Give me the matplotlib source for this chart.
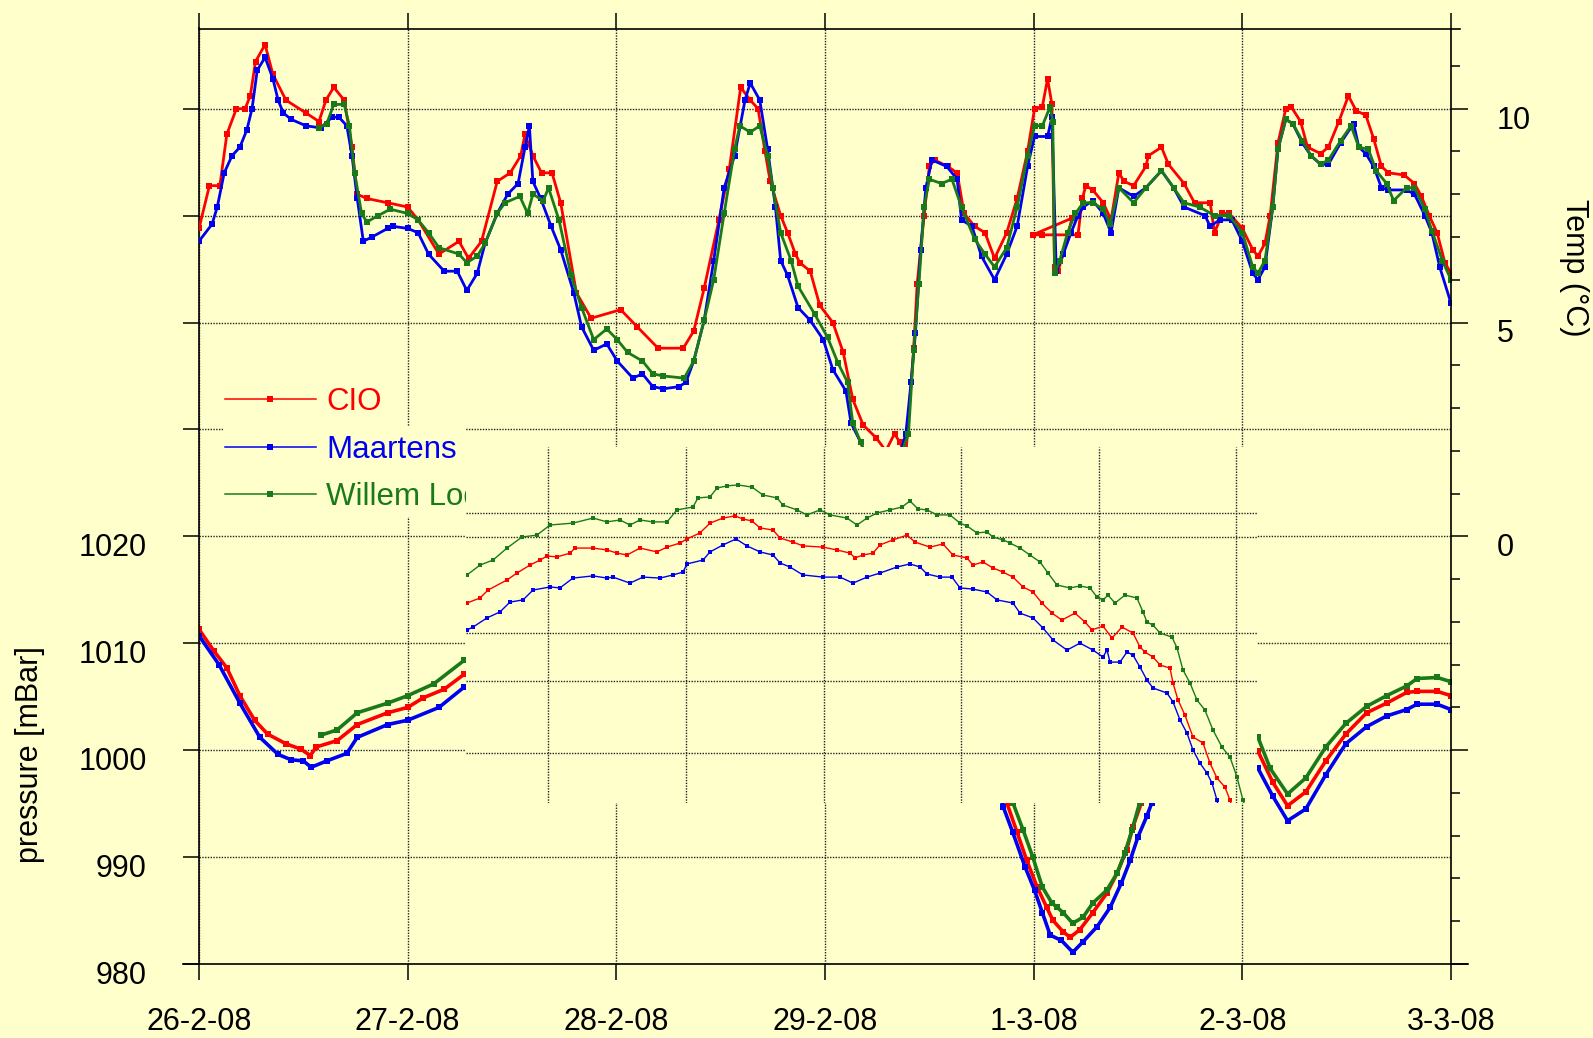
import numpy as np
import matplotlib
matplotlib.use("Agg")
import matplotlib.pyplot as plt
import matplotlib.transforms as mtransforms
from matplotlib.lines import Line2D
from matplotlib.patches import Rectangle
from matplotlib.ticker import MultipleLocator

plt.rcParams['font.family'] = ['Liberation Sans', 'DejaVu Sans']

BG = '#FFFFCC'
COLORS = ['#FF0000', '#0000F0', '#1A7A1A']
stations = ['CIO', 'Maartens', 'Willem Lodewijk']
day_labels = ['26-2-08', '27-2-08', '28-2-08', '29-2-08', '1-3-08', '2-3-08', '3-3-08']

# temperature (deg C), (hours since 26-2-08 00:00, value)
cio_temp = [
    (0, 7.2), (1.2, 8.2), (2.4, 8.2), (3.2, 9.4), (4.3, 10.0), (5.3, 10.0), (5.9, 10.3), (6.5, 11.1),
    (7.6, 11.5), (8.5, 10.8), (10.0, 10.2), (12.3, 9.9), (13.8, 9.7), (14.6, 10.2), (15.5, 10.5),
    (16.7, 10.2), (17.6, 9.1), (18.2, 8.0), (19.3, 7.9), (21.7, 7.8), (24.0, 7.7), (25.2, 7.4),
    (27.6, 6.6), (29.9, 6.9), (31.0, 6.5), (32.5, 6.9), (34.3, 8.3), (35.8, 8.5), (37.0, 8.9),
    (37.5, 9.4), (38.4, 8.9), (39.4, 8.5), (40.6, 8.5), (41.6, 7.8), (43.4, 5.7), (45.1, 5.1),
    (48.5, 5.3), (50.4, 4.9), (52.8, 4.4), (55.7, 4.4), (56.9, 4.8), (58.1, 5.8), (59.8, 7.4),
    (61.0, 8.6), (62.3, 10.5), (63.4, 10.2), (64.3, 10.0), (65.1, 9.0), (65.7, 8.3), (66.9, 7.5),
    (67.7, 7.1), (68.6, 6.6), (69.1, 6.4), (70.3, 6.2), (71.4, 5.4), (72.9, 5.0), (74.1, 4.3),
    (75.2, 3.2), (76.4, 2.6), (77.9, 2.3), (79.0, 2.0), (80.0, 2.4), (80.6, 2.2), (81.3, 1.9),
    (82.2, 4.4), (82.6, 5.9), (83.4, 7.5), (84.0, 8.65), (84.6, 8.8), (86.1, 8.65), (87.2, 8.5),
    (88.0, 7.55), (89.2, 7.25), (90.4, 7.1), (91.5, 6.5), (92.9, 7.1), (94.1, 7.9), (95.3, 9.0),
    (96.1, 10.0), (97.0, 10.05), (97.6, 10.7), (98.1, 10.1), (98.4, 6.3), (98.8, 6.2), (99.4, 6.6),
    (100.4, 7.44), (95.9, 7.05), (97.0, 7.05), (101.1, 7.05), (101.6, 7.9), (102.0, 8.2),
    (102.8, 8.1), (104.0, 7.8), (104.9, 7.4), (105.8, 8.5), (106.4, 8.3), (107.5, 8.2), (108.9, 8.65),
    (109.2, 8.9), (110.7, 9.1), (111.5, 8.7), (113.3, 8.25), (114.5, 7.8), (116.3, 7.8), (116.8, 7.1),
    (117.7, 7.55), (118.5, 7.55), (120.0, 7.2), (121.2, 6.7), (121.8, 6.55), (122.6, 6.85),
    (123.2, 7.5), (124.1, 9.2), (125.0, 10.0), (125.6, 10.05), (126.7, 9.7), (127.5, 9.1),
    (129.0, 8.95), (129.9, 9.1), (131.1, 9.7), (132.2, 10.3), (133.1, 9.95), (134.2, 9.85),
    (135.1, 9.3), (136.0, 8.65), (136.8, 8.5), (138.6, 8.45), (139.8, 8.25), (140.6, 7.95),
    (141.5, 7.5), (142.4, 7.1), (143.3, 6.4), (144.0, 6.15),
]
maartens_temp = [
    (0, 6.9), (1.5, 7.3), (2.1, 7.7), (2.9, 8.5), (3.8, 8.9), (4.7, 9.1), (5.5, 9.5), (6.1, 10.0),
    (6.7, 10.9), (7.6, 11.2), (8.5, 10.7), (9.1, 10.2), (9.7, 9.9), (10.6, 9.75), (12.3, 9.6),
    (14.0, 9.55), (15.3, 9.8), (16.1, 9.8), (17.0, 9.6), (17.6, 8.9), (18.2, 7.9), (18.9, 6.9),
    (19.9, 7.0), (21.7, 7.2), (22.3, 7.25), (24.0, 7.2), (25.2, 7.1), (26.4, 6.6), (28.2, 6.2),
    (29.7, 6.2), (30.8, 5.75), (32.0, 6.15), (32.9, 6.85), (34.3, 7.55), (35.5, 8.0), (36.7, 8.25),
    (37.5, 9.1), (38.0, 9.6), (38.4, 8.3), (39.3, 7.9), (40.5, 7.25), (41.6, 6.7), (43.1, 5.7),
    (44.0, 4.9), (45.4, 4.35), (46.9, 4.5), (48.1, 4.1), (49.9, 3.7), (51.0, 3.8), (52.2, 3.5),
    (53.4, 3.45), (55.2, 3.5), (56.0, 3.6), (56.9, 4.1), (58.1, 5.05), (59.2, 6.45), (60.4, 8.15),
    (61.6, 8.9), (62.8, 10.2), (63.4, 10.6), (64.5, 10.2), (65.4, 9.05), (66.3, 7.7), (66.9, 6.45),
    (67.7, 6.1), (68.9, 5.35), (70.3, 5.05), (71.8, 4.6), (72.9, 3.9), (74.4, 3.4), (75.0, 2.65),
    (76.1, 2.2), (77.5, 1.5), (80.0, 1.5), (81.3, 2.4), (81.9, 3.6), (82.4, 4.75), (83.0, 6.7),
    (83.6, 8.15), (84.3, 8.8), (86.0, 8.65), (87.2, 8.35), (87.7, 7.4), (88.9, 7.25), (90.0, 6.55),
    (91.5, 6.0), (92.9, 6.6), (94.1, 7.25), (95.3, 8.65), (96.1, 9.35), (97.6, 9.35), (98.1, 9.8),
    (98.6, 6.2), (99.4, 6.6), (100.3, 7.1), (101.1, 7.5), (101.7, 7.7), (102.8, 7.85), (104.0, 7.55),
    (104.9, 7.1), (105.8, 8.15), (107.5, 7.95), (108.9, 8.15), (110.7, 8.55), (112.1, 8.15),
    (113.3, 7.7), (115.7, 7.5), (116.3, 7.25), (117.4, 7.4), (118.8, 7.4), (120.0, 6.9), (121.2, 6.15),
    (121.8, 6.0), (122.6, 6.3), (123.5, 7.7), (124.1, 9.05), (125.0, 9.75), (125.8, 9.65),
    (126.9, 9.2), (127.9, 8.9), (129.0, 8.7), (129.9, 8.7), (131.3, 9.2), (132.8, 9.65), (133.4, 9.1),
    (134.2, 8.95), (135.1, 8.65), (136.0, 8.15), (136.8, 8.1), (138.9, 8.1), (139.8, 8.0),
    (141.0, 7.5), (141.8, 7.1), (142.7, 6.3), (144.0, 5.45),
]
willem_temp = [
    (13.8, 9.55), (14.7, 9.65), (15.5, 10.1), (16.7, 10.1), (17.3, 9.6), (17.9, 8.5), (18.7, 7.55),
    (19.3, 7.35), (20.6, 7.5), (22.0, 7.65), (24.0, 7.55), (25.2, 7.4), (26.4, 7.1), (27.6, 6.75),
    (29.9, 6.6), (30.8, 6.4), (32.0, 6.55), (32.9, 6.85), (34.3, 7.55), (35.2, 7.8), (36.9, 7.95),
    (37.8, 7.55), (38.4, 8.0), (39.6, 7.85), (40.2, 8.15), (41.4, 7.4), (42.8, 6.1), (44.0, 5.35),
    (45.4, 4.6), (46.9, 4.85), (48.1, 4.6), (49.3, 4.3), (51.0, 4.1), (52.2, 3.8), (53.4, 3.75),
    (55.8, 3.7), (56.9, 4.1), (58.1, 5.05), (59.2, 6.0), (60.4, 7.55), (61.6, 9.05), (62.2, 9.6),
    (63.4, 9.45), (64.5, 9.6), (65.4, 8.9), (66.0, 8.15), (66.9, 7.1), (68.1, 6.45), (68.9, 5.85),
    (70.8, 5.2), (72.3, 4.65), (73.5, 4.05), (74.6, 3.6), (75.2, 2.65), (76.1, 2.2), (77.5, 1.5),
    (80.0, 1.5), (81.6, 2.4), (82.2, 4.35), (82.8, 5.9), (83.4, 7.7), (84.0, 8.35), (85.4, 8.25),
    (86.6, 8.35), (87.7, 7.7), (89.2, 6.95), (90.4, 6.6), (91.5, 6.3), (92.9, 6.75), (94.1, 7.7),
    (95.3, 8.9), (96.1, 9.6), (97.0, 9.6), (97.9, 10.05), (98.2, 9.7), (98.4, 6.15), (99.0, 6.45),
    (99.9, 7.1), (100.8, 7.55), (101.7, 7.8), (102.8, 7.8), (104.0, 7.65), (104.8, 7.3), (105.8, 8.15),
    (107.5, 7.8), (108.9, 8.15), (110.7, 8.55), (112.1, 8.15), (113.3, 7.8), (115.1, 7.7),
    (116.8, 7.5), (118.5, 7.5), (120.0, 7.1), (121.2, 6.3), (121.8, 6.15), (122.6, 6.45), (123.5, 7.7),
    (124.1, 9.05), (125.0, 9.75), (125.8, 9.65), (126.9, 9.25), (127.9, 8.9), (129.0, 8.7),
    (129.9, 8.8), (131.3, 9.25), (132.5, 9.6), (133.4, 9.1), (134.5, 9.05), (135.4, 8.55),
    (136.6, 8.25), (137.4, 7.85), (138.9, 8.15), (139.8, 8.15), (141.0, 7.65), (141.8, 7.15),
    (143.0, 6.45), (144.0, 6.0),
]

# pressure (mBar), visible stretches of the main chart
cio_pres = [
    [(0, 1011.3), (1.7, 1009.3), (3.2, 1007.7), (4.7, 1005.1), (6.4, 1002.8), (7.9, 1001.5),
     (10.0, 1000.6), (11.7, 1000.1), (12.8, 999.5), (13.5, 1000.3), (15.9, 1000.9), (18.2, 1002.4),
     (21.7, 1003.5), (24.0, 1004.0), (25.8, 1004.9), (28.2, 1005.7), (30.5, 1007.1), (31.5, 1007.6)],
    [(92.2, 996.6), (92.9, 995.1), (94.1, 992.3), (95.2, 989.7), (96.4, 987.2), (97.5, 985.3),
     (98.2, 984.1), (99.4, 983.0), (100.2, 982.5), (101.3, 983.2), (102.8, 984.8), (104.4, 986.6),
     (105.6, 988.5), (106.7, 990.7), (107.4, 992.8), (108.4, 995.1), (109.0, 996.5)],
    [(121.8, 999.9), (123.5, 997.0), (125.2, 994.8), (127.3, 996.1), (129.6, 999.0), (131.9, 1001.5),
     (134.3, 1003.5), (136.6, 1004.4), (138.9, 1005.4), (140.1, 1005.5), (142.4, 1005.5), (144.0, 1005.1)],
]
maartens_pres = [
    [(0, 1010.7), (2.3, 1008.0), (4.7, 1004.4), (7.0, 1001.2), (9.1, 999.6), (10.6, 999.1),
     (12.0, 999.0), (12.9, 998.4), (14.7, 999.0), (17.0, 999.7), (18.2, 1001.2), (21.7, 1002.4),
     (24.0, 1002.8), (27.6, 1004.0), (30.5, 1005.9), (31.5, 1006.4)],
    [(91.8, 996.5), (92.5, 994.7), (93.6, 992.3), (95.0, 989.1), (96.1, 986.9), (97.0, 984.8),
     (97.9, 982.7), (99.2, 982.2), (100.5, 981.1), (101.7, 982.1), (103.3, 983.5), (104.8, 985.3),
     (106.1, 987.6), (107.1, 989.7), (108.0, 991.9), (109.0, 993.8), (109.6, 995.1), (110.2, 996.3)],
    [(121.8, 998.3), (123.5, 995.7), (125.2, 993.4), (127.3, 994.5), (129.6, 997.7), (131.9, 1000.6),
     (134.3, 1002.2), (136.6, 1003.2), (138.9, 1003.8), (140.1, 1004.3), (142.4, 1004.3), (144.0, 1003.8)],
]
willem_pres = [
    [(14.0, 1001.4), (15.9, 1001.9), (18.2, 1003.5), (21.7, 1004.4), (24.0, 1005.1), (27.0, 1006.2),
     (30.5, 1008.4), (31.5, 1008.9)],
    [(92.9, 996.7), (93.6, 995.1), (94.8, 992.5), (95.9, 990.0), (97.0, 987.2), (98.1, 985.7),
     (98.7, 985.3), (99.4, 984.8), (100.5, 983.8), (101.7, 984.4), (102.8, 985.7), (104.4, 986.9),
     (105.6, 988.5), (106.5, 990.4), (107.3, 992.5), (108.2, 995.1), (108.8, 996.6)],
    [(121.8, 1001.2), (123.2, 998.3), (125.2, 995.9), (127.3, 997.4), (129.6, 1000.3), (131.9, 1002.5),
     (134.3, 1004.1), (136.6, 1005.1), (138.9, 1006.0), (140.1, 1006.7), (142.4, 1006.8), (144.0, 1006.4)],
]

# the pasted-in panel: pressure on its own stretched scale
inset_cio = [
    (9.78, 1008.25), (12.05, 1008.46), (13.45, 1008.79), (16.76, 1009.21), (18.5, 1009.5),
    (20.77, 1009.83), (22.52, 1010.04), (23.74, 1010.21), (25.48, 1010.17), (27.75, 1010.33),
    (28.62, 1010.54), (31.76, 1010.54), (34.2, 1010.46), (35.95, 1010.33), (37.69, 1010.25),
    (39.96, 1010.54), (42.92, 1010.38), (44.67, 1010.58), (46.94, 1010.75), (48.16, 1010.92),
    (50.42, 1011.17), (52.17, 1011.58), (54.44, 1011.79), (56.53, 1011.88), (57.92, 1011.75),
    (59.49, 1011.67), (60.89, 1011.38), (63.16, 1011.29), (64.38, 1010.96), (66.64, 1010.79),
    (68.39, 1010.63), (71.88, 1010.58), (74.32, 1010.46), (76.59, 1010.33), (77.46, 1010.13),
    (78.85, 1010.25), (80.6, 1010.33), (81.82, 1010.67), (84.09, 1010.88), (86.53, 1011.08),
    (87.92, 1010.79), (90.54, 1010.58), (92.81, 1010.71), (94.55, 1010.25), (96.99, 1010.13),
    (98.04, 1009.83), (99.78, 1009.96), (101.53, 1009.71), (103.27, 1009.54), (105.02, 1009.33),
    (106.76, 1008.92), (108.5, 1008.71), (110.07, 1008.25), (111.82, 1007.83), (113.56, 1007.54),
    (115.83, 1007.83), (117.57, 1007.46), (118.79, 1007.13), (120.72, 1007.29), (122.29, 1006.79),
    (124.03, 1007.25), (125.95, 1007.0), (127.17, 1006.42), (128.04, 1006.21), (129.44, 1006.0),
    (130.66, 1005.67), (132.4, 1005.54), (132.93, 1004.92), (133.8, 1004.21), (135.02, 1003.58),
    (136.41, 1002.67), (138.16, 1002.42), (139.38, 1001.58), (140.6, 1000.96), (141.99, 1000.58),
    (142.87, 1000.04), (143.4, 999.6),
]
inset_maartens = [
    (9.78, 1007.13), (10.83, 1007.25), (13.27, 1007.63), (15.54, 1007.88), (17.28, 1008.29),
    (19.55, 1008.38), (21.3, 1008.79), (24.26, 1008.92), (26.0, 1008.88), (28.27, 1009.29),
    (31.76, 1009.38), (34.2, 1009.29), (35.25, 1009.33), (38.21, 1009.08), (40.48, 1009.33),
    (43.45, 1009.29), (45.71, 1009.42), (47.46, 1009.54), (48.16, 1009.88), (50.95, 1010.04),
    (52.17, 1010.38), (54.44, 1010.67), (56.7, 1010.92), (58.62, 1010.63), (60.89, 1010.38),
    (63.16, 1010.25), (64.38, 1009.92), (66.12, 1009.75), (68.39, 1009.42), (71.88, 1009.33),
    (74.85, 1009.33), (77.11, 1009.08), (79.55, 1009.33), (81.82, 1009.5), (84.78, 1009.75),
    (87.05, 1009.88), (88.8, 1009.75), (90.02, 1009.46), (92.29, 1009.33), (94.38, 1009.33),
    (95.77, 1008.88), (98.04, 1008.83), (100.48, 1008.71), (102.23, 1008.38), (105.02, 1008.25),
    (106.24, 1007.83), (108.5, 1007.63), (110.25, 1007.21), (112.0, 1006.71), (114.44, 1006.29),
    (116.7, 1006.58), (118.97, 1006.29), (120.72, 1006.0), (121.42, 1006.29), (121.94, 1005.79),
    (123.68, 1005.79), (124.9, 1006.21), (125.95, 1006.08), (127.17, 1005.58), (128.39, 1005.04),
    (129.44, 1004.71), (131.88, 1004.5), (132.93, 1004.13), (134.15, 1003.38), (135.37, 1002.83),
    (136.41, 1002.13), (137.63, 1001.58), (138.85, 1001.17), (139.73, 1000.75), (140.6, 1000.04),
    (140.95, 999.6),
]
inset_willem = [
    (9.78, 1009.42), (12.05, 1009.83), (14.32, 1010.04), (16.76, 1010.54), (19.38, 1011.0),
    (21.99, 1011.08), (24.26, 1011.5), (28.27, 1011.58), (31.76, 1011.79), (34.2, 1011.63),
    (36.47, 1011.71), (38.21, 1011.5), (39.96, 1011.71), (42.23, 1011.63), (44.67, 1011.63),
    (46.41, 1012.13), (49.2, 1012.25), (50.08, 1012.63), (52.17, 1012.67), (53.39, 1013.04),
    (55.13, 1013.13), (57.05, 1013.17), (59.49, 1013.08), (61.41, 1012.75), (63.85, 1012.63),
    (64.9, 1012.33), (67.35, 1012.13), (69.09, 1011.92), (71.36, 1012.13), (73.1, 1011.92),
    (76.07, 1011.79), (77.81, 1011.5), (79.55, 1011.79), (81.3, 1012.0), (83.57, 1012.13),
    (85.66, 1012.25), (87.05, 1012.5), (88.45, 1012.17), (90.02, 1012.13), (91.76, 1011.92),
    (94.03, 1011.92), (95.77, 1011.58), (96.99, 1011.46), (98.74, 1011.17), (100.48, 1011.21),
    (101.53, 1011.0), (103.27, 1010.88), (104.5, 1010.75), (106.24, 1010.54), (107.98, 1010.25),
    (109.73, 1009.96), (111.12, 1009.5), (112.69, 1009.0), (114.96, 1008.88), (116.7, 1008.96),
    (118.45, 1008.88), (119.67, 1008.5), (120.72, 1008.38), (121.59, 1008.58), (122.81, 1008.25),
    (124.55, 1008.58), (126.64, 1008.46), (127.69, 1007.88), (128.39, 1007.46), (129.44, 1007.33),
    (130.66, 1007.0), (132.75, 1006.83), (133.63, 1006.38), (134.67, 1005.46), (135.89, 1004.92),
    (137.11, 1004.21), (138.5, 1003.79), (139.9, 1002.96), (141.47, 1002.25), (142.87, 1001.83),
    (144.09, 1001.0), (145.13, 1000.04), (145.7, 999.6),
]
inset_grid_x = [24, 48, 72, 96, 120, 144]
inset_grid_y = [1002, 1005, 1007, 1011, 1012]

temps = [cio_temp, maartens_temp, willem_temp]
pressures = [cio_pres, maartens_pres, willem_pres]
insets = [inset_cio, inset_maartens, inset_willem]

W, H = 1593, 1038
fig = plt.figure(figsize=(W / 100, H / 100), dpi=100, facecolor=BG)
ax = fig.add_axes([199 / W, 1 - 964 / H, 1252 / W, 935.5 / H], facecolor=BG)
ax2 = ax.twinx()
ax.set_zorder(1)
ax2.set_zorder(2)

dot = (0, (1, 1))
for station, color, temp, pres in zip(stations, COLORS, temps, pressures):
    for seg in pres:
        h, p = zip(*seg)
        ax.plot(h, p, color=color, lw=2.6, marker='s', ms=4.2, mew=0)
    h, t = zip(*temp)
    ax2.plot(h, t, color=color, lw=2.0, marker='s', ms=4.2, mew=0)

ax.set_xlim(0, 144)
ax.set_ylim(980, 1067.5)
ax2.set_ylim(-10, 11.875)

ax.set_xticks(np.arange(0, 145, 24))
ax.set_xticklabels(day_labels)
pticks = np.arange(980, 1061, 10)
ax.set_yticks(pticks)
ax.set_yticklabels([str(v) if v <= 1020 else '' for v in pticks])
ax.grid(True, linestyle=dot, linewidth=1.0, color='#222222')

ax.tick_params(axis='y', direction='out', length=11.5, width=1.1, pad=26, labelsize=22)
ax.tick_params(axis='x', direction='out', length=11.5, width=1.1, pad=19.5, labelsize=22,
               top=True, labeltop=False)

ax2.set_yticks([-10, -5, 0, 5, 10])
ax2.set_yticklabels(['', '', '0', '5', '10'])
ax2.yaxis.set_minor_locator(MultipleLocator(1))
ax2.tick_params(axis='y', which='major', direction='out', length=12, width=1.1, pad=21,
                labelsize=22)
ax2.tick_params(axis='y', which='minor', direction='out', length=6.5, width=1.1)

for side in ['left', 'top', 'bottom']:
    ax2.spines[side].set_visible(False)
for sp in ax.spines.values():
    sp.set_linewidth(1.2)
ax2.spines['right'].set_linewidth(1.2)
ax.spines['right'].set_visible(False)
ax.spines['bottom'].set_bounds(-1.84, 145.95)
ax.spines['top'].set_bounds(0, 145.0)

# y tick labels sit a little below their ticks in the original
shift = mtransforms.ScaledTranslation(0, -6.1 / 72, fig.dpi_scale_trans)
for lab in ax.get_yticklabels() + ax2.get_yticklabels():
    lab.set_transform(lab.get_transform() + shift)

ax.set_ylabel('pressure [mBar]', fontsize=22, rotation=90, rotation_mode='default',
              ha='center', va='center')
ax.yaxis.set_label_coords(-0.135, 0.2234)
ax2.set_ylabel('Temp (°C)', fontsize=22, rotation=270, rotation_mode='default',
               ha='center', va='center')
ax2.yaxis.set_label_coords(1.0982, 0.744)

# blank patch behind the lower legend rows
fig.add_artist(Rectangle((223 / W, 1 - 517 / H), 243 / W, 90 / H, transform=fig.transFigure,
                         facecolor=BG, edgecolor='none', zorder=3))

handles = [Line2D([], [], color=c, lw=1.1, marker='s', ms=4, mew=0) for c in COLORS]
leg = fig.legend(handles, stations, loc='upper left', bbox_to_anchor=(225 / W, 1 - 387 / H),
                 frameon=False, fontsize=22.5, handlelength=2.9, handletextpad=0.33,
                 labelspacing=0.56, borderpad=0, borderaxespad=0, numpoints=1,
                 labelcolor='linecolor')
leg.set_zorder(4)

# pasted-in panel over the middle of the chart
axi = fig.add_axes([466 / W, 1 - 803 / H, 791 / W, 356 / H], facecolor=BG, zorder=5)
for color, data in zip(COLORS, insets):
    h, p = zip(*data)
    axi.plot(h, p, color=color, lw=1.0, marker='s', ms=3.2, mew=0)
axi.set_xlim(9.61, 147.58)
axi.set_ylim(999.92, 1014.75)
axi.set_xticks(inset_grid_x)
axi.set_yticks(inset_grid_y)
axi.grid(True, linestyle=dot, linewidth=1.0, color='#222222')
axi.tick_params(length=0, labelbottom=False, labelleft=False)
for sp in axi.spines.values():
    sp.set_visible(False)

fig.savefig('out.png', dpi=100, facecolor=BG)
